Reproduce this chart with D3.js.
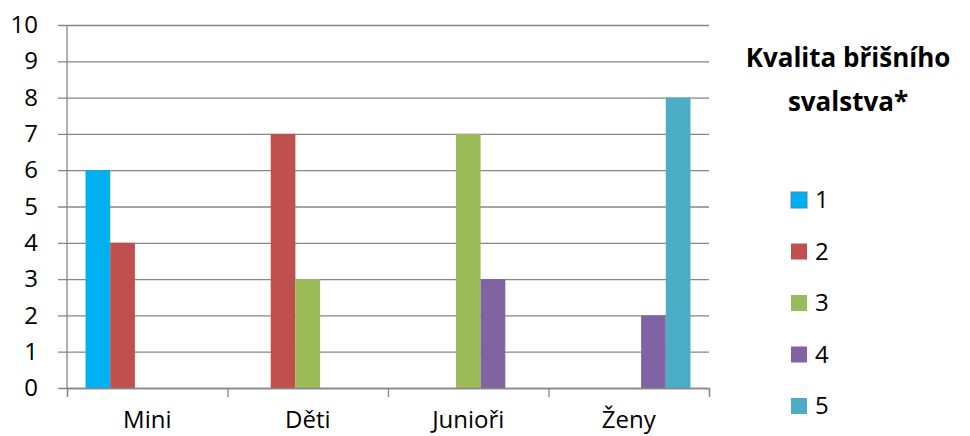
<!DOCTYPE html>
<html>
<head>
<meta charset="utf-8">
<script src="https://cdn.jsdelivr.net/npm/d3@7"></script>
<style>
  body { margin: 0; background: #fff; }
  svg { display: block; font-family: "Open Sans", sans-serif; }
  .grid line { stroke: #868686; stroke-width: 1.3; }
  .grid path { display: none; }
  .ylab path, .ylab line { display: none; }
  .xlab path, .xlab line { display: none; }
  .xtick path, .xtick line { stroke: #868686; stroke-width: 1.3; }
</style>
</head>
<body>
<script>
// grouped bars - one group per category, one bar per grade
var categories = ['Mini', 'Děti', 'Junioři', 'Ženy'];
var series = ['1', '2', '3', '4', '5'];
var values = [
  [6, 4, 0, 0, 0],   // Mini
  [0, 7, 3, 0, 0],   // Děti
  [0, 0, 7, 3, 0],   // Junioři
  [0, 0, 0, 2, 8]    // Ženy
];
var colors = ['#00B0F0', '#C0504D', '#9BBB59', '#8064A2', '#4BACC6'];
var yTicks = [0,1,2,3,4,5,6,7,8,9,10];
var title = ['Kvalita břišního', 'svalstva*'];

var width = 970, height = 436;
var plot = {left: 67, right: 709, top: 25, bottom: 388};

var svg = d3.select("body").append("svg").attr("width", width).attr("height", height);

var y = d3.scaleLinear().domain([0, 10]).range([plot.bottom, plot.top]);

var x0 = d3.scaleBand().domain(categories).range([plot.left, plot.right]);
var x1 = d3.scaleBand().domain(series).range([0, x0.bandwidth()]).paddingOuter(0.75);

// gridlines (stick out 9px to the left of the axis)
svg.append("g")
   .attr("class", "grid")
   .attr("transform", "translate(" + (plot.left - 9) + ",0)")
   .call(d3.axisLeft(y).tickValues(yTicks).tickSize(-(plot.right - plot.left + 9)).tickFormat(""));

// y labels
svg.append("g")
   .attr("class", "ylab")
   .attr("transform", "translate(" + plot.left + ",0)")
   .call(d3.axisLeft(y).tickValues(yTicks).tickSize(0).tickPadding(29))
   .selectAll("text")
   .attr("font-size", 24).attr("fill", "#000").attr("font-family", "Open Sans");

// bars
var groups = svg.append("g").selectAll("g")
   .data(values)
   .join("g")
   .attr("transform", function(d, i) { return "translate(" + x0(categories[i]) + ",0)"; });

groups.selectAll("rect")
   .data(function(d) { return d.map(function(v, j) { return {key: series[j], v: v, j: j}; }); })
   .join("rect")
   .attr("x", function(d) { return x1(d.key); })
   .attr("width", x1.bandwidth())
   .attr("y", function(d) { return y(d.v); })
   .attr("height", function(d) { return y(0) - y(d.v); })
   .attr("fill", function(d) { return colors[d.j]; });

// vertical axis line
svg.append("line")
   .attr("x1", plot.left).attr("x2", plot.left)
   .attr("y1", y(10)).attr("y2", y(0))
   .attr("stroke", "#868686").attr("stroke-width", 1.3);

// x axis: boundary ticks
var xb = d3.scaleLinear().domain([0, categories.length]).range([plot.left, plot.right]);
svg.append("g")
   .attr("class", "xtick")
   .attr("transform", "translate(0," + plot.bottom + ")")
   .call(d3.axisBottom(xb).ticks(categories.length).tickSize(9).tickSizeOuter(9).tickFormat(""));

// x labels
svg.append("g")
   .attr("class", "xlab")
   .attr("transform", "translate(0," + plot.bottom + ")")
   .call(d3.axisBottom(x0).tickSize(0).tickPadding(23))
   .selectAll("text")
   .attr("font-size", 24).attr("fill", "#000").attr("font-family", "Open Sans");

// title
svg.append("text")
   .attr("x", 848).attr("y", 67)
   .attr("text-anchor", "middle")
   .attr("font-size", 26).attr("font-weight", "bold")
   .selectAll("tspan")
   .data(title)
   .join("tspan")
   .attr("x", 848)
   .attr("dy", function(d, i) { return i ? 44 : 0; })
   .text(function(d) { return d; });

// legend
var legend = svg.append("g").selectAll("g")
   .data(series)
   .join("g")
   .attr("transform", function(d, i) { return "translate(791," + (200 + i * 51.5) + ")"; });

legend.append("rect")
   .attr("x", 0).attr("y", -8).attr("width", 16).attr("height", 16)
   .attr("fill", function(d, i) { return colors[i]; })
   .attr("stroke", function(d, i) { return i === 0 ? "#4F81BD" : "none"; })
   .attr("stroke-width", 1);

legend.append("text")
   .attr("x", 24).attr("y", 0).attr("dy", "0.35em")
   .attr("font-size", 24)
   .text(function(d) { return d; });
</script>
</body>
</html>
